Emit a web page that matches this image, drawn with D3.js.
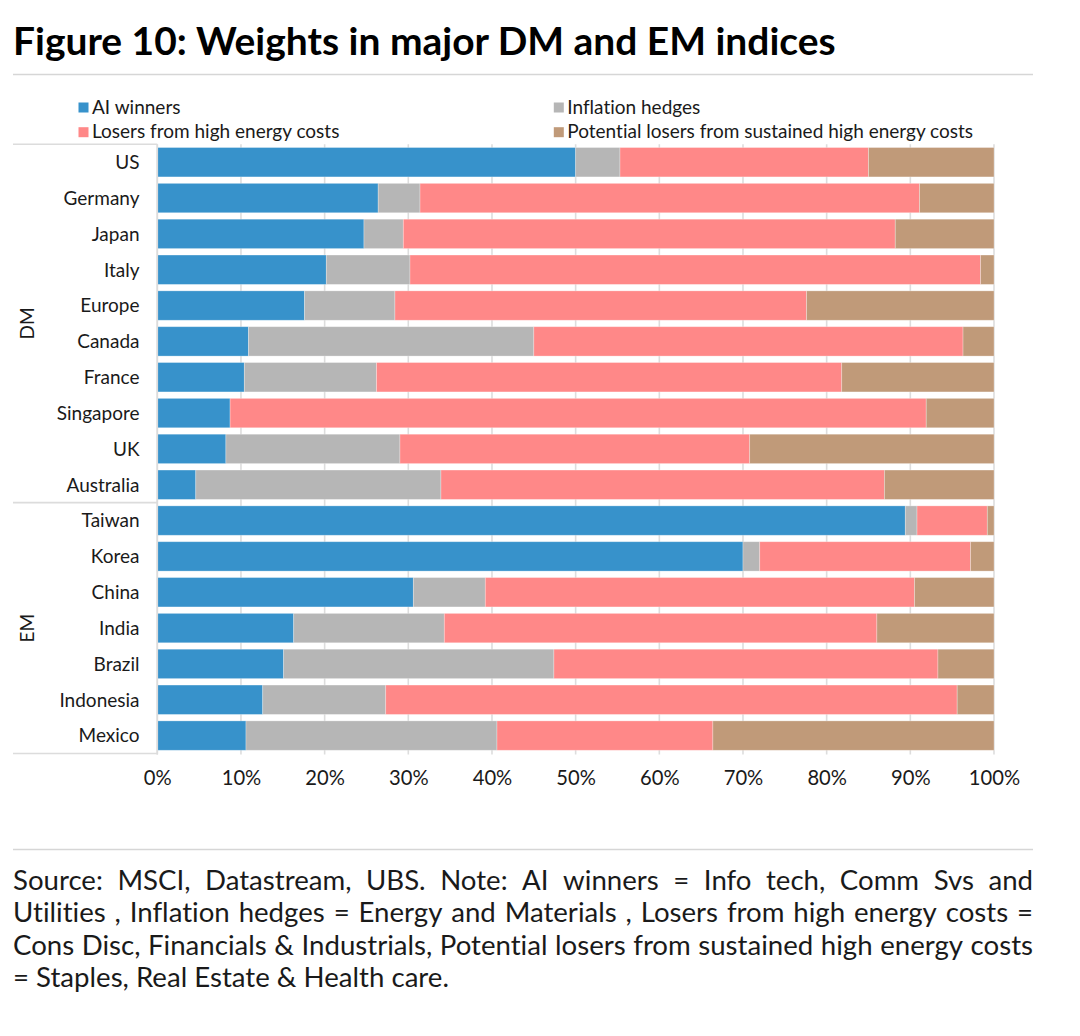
<!DOCTYPE html>
<html>
<head>
<meta charset="utf-8">
<script src="https://cdn.jsdelivr.net/npm/d3@7"></script>
<style>
  body { margin: 0; background: #fff; }
  text { font-family: Lato, "Open Sans", sans-serif; fill: #1a1a1a; font-variant-ligatures: none; }
</style>
</head>
<body>
<svg id="chart" width="1080" height="1036"></svg>
<script>
// ---- data (percent of index weight) ----
const countries = ['US', 'Germany', 'Japan', 'Italy', 'Europe', 'Canada', 'France', 'Singapore', 'UK', 'Australia',
  'Taiwan', 'Korea', 'China', 'India', 'Brazil', 'Indonesia', 'Mexico']
const groupNames = ['DM', 'EM']
const groupFirst = ['US', 'Taiwan']
const groupLast = ['Australia', 'Mexico']

const seriesKeys = ['ai', 'hedge', 'losers', 'potential']
const seriesLabels = ['AI winners', 'Inflation hedges', 'Losers from high energy costs', 'Potential losers from sustained high energy costs']
const seriesColors = ['#3792cb', '#b6b6b6', '#ff8888', '#c09a79']

const aiWinners       = [50.0, 26.4, 24.7, 20.2, 17.6, 10.9, 10.4, 8.7, 8.2, 4.6, 89.4, 70.0, 30.6, 16.3, 15.1, 12.6, 10.6]
const inflationHedges = [5.3, 5.0, 4.7, 10.0, 10.8, 34.1, 15.8, 0.0, 20.8, 29.3, 1.4, 2.0, 8.6, 18.0, 32.3, 14.7, 30.0]
const losers          = [29.7, 59.7, 58.8, 68.2, 49.2, 51.3, 55.6, 83.2, 41.8, 53.0, 8.4, 25.2, 51.3, 51.7, 45.9, 68.3, 25.8]
const potentialLosers = [15.0, 8.9, 11.8, 1.6, 22.4, 3.7, 18.2, 8.1, 29.2, 13.1, 0.8, 2.8, 9.5, 14.0, 6.7, 4.4, 33.6]

const tickValues = [0, 10, 20, 30, 40, 50, 60, 70, 80, 90, 100]

const titleText = 'Figure 10: Weights in major DM and EM indices'
const sourceLines = [
  'Source: MSCI, Datastream, UBS. Note: AI winners = Info tech, Comm Svs and',
  'Utilities , Inflation hedges = Energy and Materials , Losers from high energy costs =',
  'Cons Disc, Financials & Industrials, Potential losers from sustained high energy costs',
  '= Staples, Real Estate & Health care.'
]

// ---- layout ----
const svg = d3.select('#chart')
const plotLeft = 157.3, plotRight = 994
const plotTop = 144.3, plotBottom = 753.5
const pageLeft = 13, pageRight = 1033

// size a font so a string gets the width it has in the reference
const measure = (txt, size, weight) => {
  const t = svg.append('text').attr('font-size', size).attr('font-weight', weight || 400).text(txt)
  const w = t.node().getComputedTextLength()
  t.remove()
  return w
}
const fitFont = (txt, target, weight) => 100 * target / measure(txt, 100, weight)

const labelFont = fitFont('Germany', 76)
const legendFont = fitFont(seriesLabels[3], 406)
const tickFont = fitFont('10%', 39.6)
const titleFont = fitFont(titleText, 823, 700)
const sourceFont = fitFont(sourceLines[3], 436)

const x = d3.scaleLinear().domain([0, 100]).range([plotLeft, plotRight])
const y = d3.scaleBand().domain(countries).range([plotTop, plotBottom]).paddingInner(0.18).paddingOuter(0.09)

// ---- title ----
svg.append('text')
  .attr('x', pageLeft).attr('y', 55)
  .attr('font-size', titleFont).attr('font-weight', 700)
  .style('fill', '#000')
  .text(titleText)

svg.append('line')
  .attr('x1', pageLeft).attr('x2', pageRight)
  .attr('y1', 74.5).attr('y2', 74.5)
  .attr('stroke', '#d6d6d6').attr('stroke-width', 1.5)

// ---- legend ----
const legendPos = [[78.5, 113.5], [553.8, 113.5], [78.5, 138.2], [553.8, 138.2]]
const legend = svg.append('g').classed('legend', true)
seriesLabels.forEach((label, i) => {
  const [lx, ly] = legendPos[i]
  legend.append('rect')
    .attr('x', lx).attr('y', ly - 11)
    .attr('width', 10).attr('height', 10)
    .attr('fill', seriesColors[i])
  legend.append('text')
    .attr('x', lx + 13.5).attr('y', ly)
    .attr('font-size', legendFont)
    .text(label)
})

// ---- grid ----
svg.append('g').classed('grid', true)
  .selectAll('line')
  .data(tickValues)
  .join('line')
  .attr('x1', d => x(d)).attr('x2', d => x(d))
  .attr('y1', plotTop).attr('y2', plotBottom + 1)
  .attr('stroke', '#dddddd').attr('stroke-width', 1.6)

// left table rules: top, between groups, bottom
const step = y.step()
const splits = [plotTop, y(groupFirst[1]) - step * y.paddingInner() / 2, plotBottom]
svg.append('g').classed('rules', true)
  .selectAll('line')
  .data(splits)
  .join('line')
  .attr('x1', pageLeft).attr('x2', plotLeft)
  .attr('y1', d => d).attr('y2', d => d)
  .attr('stroke', '#dcdcdc').attr('stroke-width', 1.6)

// ---- bars ----
const rows = countries.map((c, i) => ({
  country: c,
  ai: aiWinners[i],
  hedge: inflationHedges[i],
  losers: losers[i],
  potential: potentialLosers[i]
}))
const stacked = d3.stack().keys(seriesKeys)(rows)

svg.append('g').classed('bars', true)
  .selectAll('g')
  .data(stacked)
  .join('g')
  .attr('fill', (d, i) => seriesColors[i])
  .selectAll('rect')
  .data(d => d)
  .join('rect')
  .attr('x', d => x(d[0]))
  .attr('y', d => y(d.data.country))
  .attr('width', d => Math.max(0, x(d[1]) - x(d[0])))
  .attr('height', y.bandwidth())
  .attr('stroke', 'rgba(255,255,255,0.35)')
  .attr('stroke-width', 0.8)

// vertical axis line
svg.append('line')
  .attr('x1', plotLeft).attr('x2', plotLeft)
  .attr('y1', plotTop).attr('y2', plotBottom + 1)
  .attr('stroke', '#dcdcdc').attr('stroke-width', 1.6)

// ---- axes ----
const yAxis = svg.append('g')
  .attr('transform', `translate(${plotLeft},0)`)
  .call(d3.axisLeft(y).tickSize(0).tickPadding(17.8))
yAxis.select('.domain').remove()
yAxis.selectAll('text')
  .attr('font-size', labelFont)
  .attr('dy', '0.36em')
yAxis.attr('font-family', null).attr('font-size', null)

const xAxis = svg.append('g')
  .attr('transform', `translate(0,${plotBottom})`)
  .call(d3.axisBottom(x).tickValues(tickValues).tickFormat(d => d + '%').tickSize(0))
xAxis.select('.domain').remove()
xAxis.selectAll('text')
  .attr('font-size', tickFont)
  .attr('y', 31.5)
  .attr('dy', 0)
xAxis.attr('font-family', null).attr('font-size', null)

// group labels DM / EM
groupNames.forEach((g, i) => {
  const cy = (y(groupFirst[i]) + y(groupLast[i]) + y.bandwidth()) / 2
  svg.append('text')
    .attr('transform', `translate(33.5,${cy}) rotate(-90)`)
    .attr('text-anchor', 'middle')
    .attr('font-size', labelFont)
    .text(g)
})

// ---- source note (justified) ----
svg.append('line')
  .attr('x1', pageLeft).attr('x2', pageRight)
  .attr('y1', 849.5).attr('y2', 849.5)
  .attr('stroke', '#d6d6d6').attr('stroke-width', 1.5)

const sourceBaselines = [889.6, 922.2, 954.8, 987.4]
const note = svg.append('g').classed('note', true)
sourceLines.forEach((line, li) => {
  const words = line.split(' ')
  const justify = li < sourceLines.length - 1
  const widths = words.map(w => measure(w, sourceFont))
  const space = justify
    ? (pageRight - pageLeft - d3.sum(widths)) / (words.length - 1)
    : measure('a b', sourceFont) - measure('ab', sourceFont)
  let cx = pageLeft
  const t = note.append('text')
    .attr('y', sourceBaselines[li])
    .attr('font-size', sourceFont)
  words.forEach((w, wi) => {
    t.append('tspan').attr('x', cx).text(w)
    cx += widths[wi] + space
  })
})
</script>
</body>
</html>
